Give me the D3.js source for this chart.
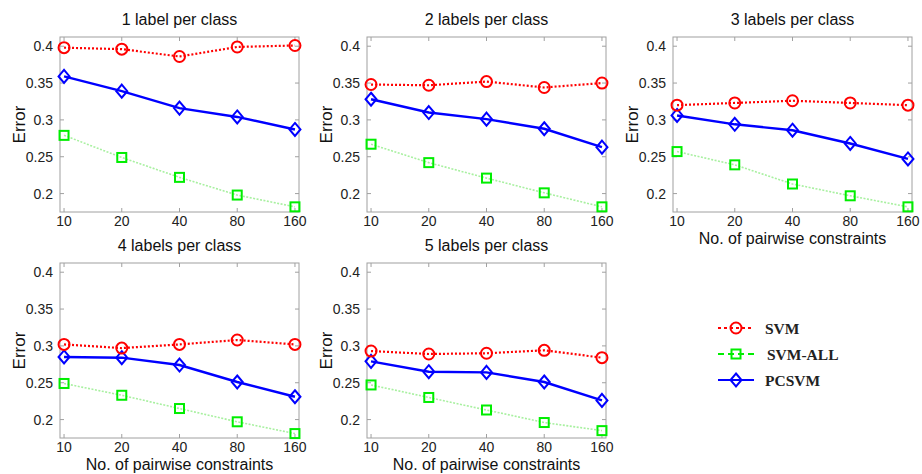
<!DOCTYPE html>
<html>
<head>
<meta charset="utf-8">
<script src="https://cdn.jsdelivr.net/npm/d3@7"></script>
<style>
  body { margin: 0; background: #fff; }
  svg { display: block; }
</style>
</head>
<body>
<svg></svg>
<script>
// values
let constraints = ['10', '20', '40', '80', '160'];
let titles = ['1 label per class', '2 labels per class', '3 labels per class',
    '4 labels per class', '5 labels per class'];
let svmErr = [
    [0.398, 0.396, 0.386, 0.399, 0.401],
    [0.348, 0.347, 0.352, 0.344, 0.350],
    [0.320, 0.323, 0.326, 0.323, 0.320],
    [0.302, 0.297, 0.302, 0.308, 0.302],
    [0.293, 0.289, 0.290, 0.294, 0.284]
];
let svmAllErr = [
    [0.279, 0.249, 0.222, 0.198, 0.182],
    [0.267, 0.242, 0.221, 0.201, 0.182],
    [0.257, 0.239, 0.213, 0.197, 0.182],
    [0.249, 0.233, 0.215, 0.197, 0.181],
    [0.247, 0.230, 0.213, 0.196, 0.185]
];
let pcsvmErr = [
    [0.359, 0.339, 0.316, 0.304, 0.287],
    [0.328, 0.310, 0.301, 0.288, 0.263],
    [0.306, 0.294, 0.286, 0.268, 0.247],
    [0.285, 0.284, 0.274, 0.251, 0.231],
    [0.279, 0.265, 0.264, 0.251, 0.226]
];
let yTicks = [0.2, 0.25, 0.3, 0.35, 0.4];
let seriesNames = ['SVM', 'SVM-ALL', 'PCSVM'];

window.onload = () => {
    let width = 922;
    let height = 474;

    let svg = d3.select('svg')
        .attr('width', width)
        .attr('height', height)
        .attr('font-family', 'Liberation Sans, Arial, sans-serif');

    let colLeft = [60, 367, 673];
    let rowTop = [37, 263];
    let pw = 239, ph = 175;

    let series = [
        { name: 'SVM', data: svmErr, line: '#ff0000', lw: 2.2, dash: '2,2', mark: '#ff0000', shape: 'circle' },
        { name: 'SVM-ALL', data: svmAllErr, line: '#a8f0a0', lw: 1.6, dash: '2,1.5', mark: '#00ee00', shape: 'square' },
        { name: 'PCSVM', data: pcsvmErr, line: '#0000ff', lw: 2.4, dash: null, mark: '#0000ff', shape: 'diamond' }
    ];

    function marker(g, shape, color, x, y) {
        if (shape === 'circle') {
            g.append('circle').attr('cx', x).attr('cy', y).attr('r', 5.5)
                .attr('fill', 'none').attr('stroke', color).attr('stroke-width', 2);
        } else if (shape === 'square') {
            g.append('rect').attr('x', x - 4.5).attr('y', y - 4.5)
                .attr('width', 9).attr('height', 9)
                .attr('fill', 'none').attr('stroke', color).attr('stroke-width', 2);
        } else {
            g.append('path').attr('d', `M${x},${y - 6.5}L${x + 5.5},${y}L${x},${y + 6.5}L${x - 5.5},${y}Z`)
                .attr('fill', 'none').attr('stroke', color).attr('stroke-width', 2);
        }
    }

    titles.forEach((title, p) => {
        let left = colLeft[p % 3];
        let top = rowTop[Math.floor(p / 3)];
        let g = svg.append('g').attr('transform', `translate(${left},${top})`);

        let x = d3.scaleLinear().domain([-0.07, 4.07]).range([0, pw]);
        let y = d3.scaleLinear().domain([0.175, 0.4125]).range([ph, 0]);

        // box
        g.append('rect').attr('width', pw).attr('height', ph)
            .attr('fill', 'none').attr('stroke', '#a0a0a0').attr('stroke-width', 1);

        // ticks inside, left/right and top/bottom
        let yt = g.append('g');
        yTicks.forEach(t => {
            yt.append('line').attr('x1', 0).attr('x2', 4).attr('y1', y(t)).attr('y2', y(t));
            yt.append('line').attr('x1', pw - 4).attr('x2', pw).attr('y1', y(t)).attr('y2', y(t));
            g.append('text').attr('x', -7).attr('y', y(t) + 5)
                .attr('text-anchor', 'end').attr('font-size', 14).attr('fill', '#222')
                .text(d3.format('~g')(t));
        });
        constraints.forEach((c, i) => {
            yt.append('line').attr('x1', x(i)).attr('x2', x(i)).attr('y1', ph).attr('y2', ph - 4);
            yt.append('line').attr('x1', x(i)).attr('x2', x(i)).attr('y1', 0).attr('y2', 4);
            g.append('text').attr('x', x(i)).attr('y', ph + 14)
                .attr('text-anchor', 'middle').attr('font-size', 14).attr('fill', '#222')
                .text(c);
        });
        yt.selectAll('line').attr('stroke', '#a0a0a0').attr('stroke-width', 1);

        g.append('text').attr('x', pw / 2).attr('y', -12)
            .attr('text-anchor', 'middle').attr('font-size', 16).attr('fill', '#111')
            .text(title);

        g.append('text')
            .attr('transform', `translate(-35,${ph / 2}) rotate(-90)`)
            .attr('text-anchor', 'middle').attr('font-size', 17).attr('fill', '#111')
            .text('Error');

        if (p >= 2) {
            g.append('text').attr('x', pw / 2).attr('y', ph + 32)
                .attr('text-anchor', 'middle').attr('font-size', 16).attr('fill', '#111')
                .text('No. of pairwise constraints');
        }

        let line = d3.line().x((d, i) => x(i)).y(d => y(d));
        series.slice().reverse().forEach(s => {
            let vals = s.data[p];
            g.append('path').attr('d', line(vals))
                .attr('fill', 'none').attr('stroke', s.line)
                .attr('stroke-width', s.lw)
                .attr('stroke-dasharray', s.dash);
            vals.forEach((v, i) => marker(g, s.shape, s.mark, x(i), y(v)));
        });
    });

    // legend
    let legend = svg.append('g').attr('transform', 'translate(718,328)');
    let legendStyle = [
        { line: '#ff0000', dash: '3,3', shape: 'circle' },
        { line: '#00ee00', dash: '6,4', shape: 'square' },
        { line: '#0000ff', dash: null, shape: 'diamond' }
    ];
    seriesNames.forEach((name, i) => {
        let ly = i * 26;
        let st = legendStyle[i];
        legend.append('line').attr('x1', 0).attr('x2', 36).attr('y1', ly).attr('y2', ly)
            .attr('stroke', st.line).attr('stroke-width', 2.2).attr('stroke-dasharray', st.dash);
        marker(legend, st.shape, st.line, 18, ly);
        legend.append('text').attr('x', 47 + (i === 1 ? 2 : 0)).attr('y', ly + 5.5)
            .attr('font-family', 'Liberation Serif, Times New Roman, serif')
            .attr('font-weight', 'bold').attr('font-size', 15.5).attr('fill', '#222')
            .text(name);
    });
};
</script>
</body>
</html>
